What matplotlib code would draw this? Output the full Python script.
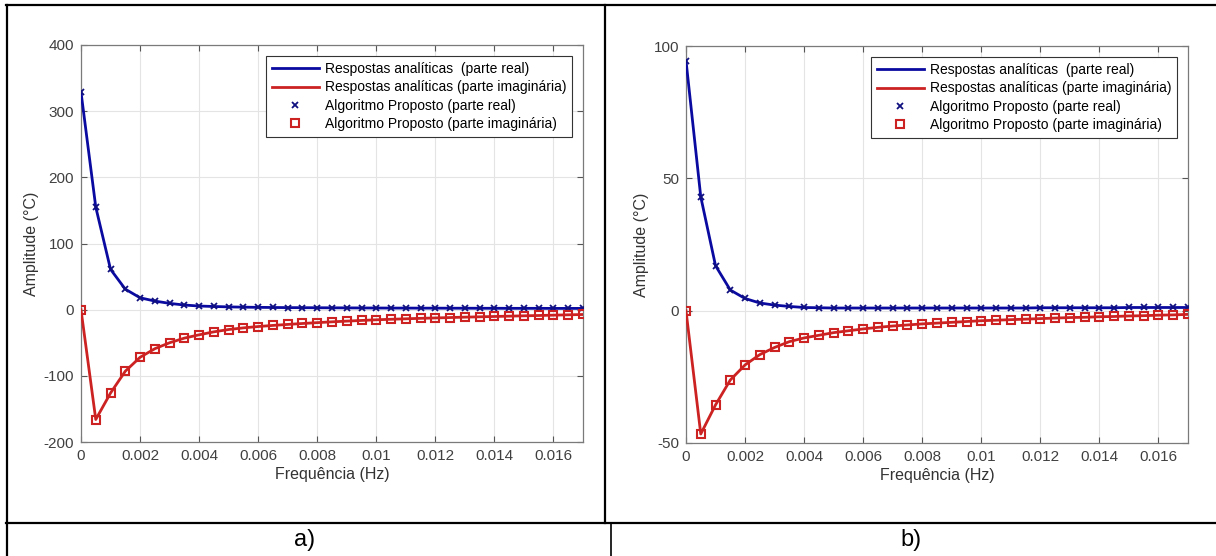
import matplotlib
matplotlib.use("Agg")
import matplotlib.pyplot as plt
from matplotlib.lines import Line2D
from matplotlib.ticker import FuncFormatter

plt.rcParams['font.family'] = ['Liberation Sans', 'DejaVu Sans']

freq_hz = [0.0, 0.0005, 0.001, 0.0015, 0.002, 0.0025, 0.003, 0.0035, 0.004, 0.0045,
           0.005, 0.0055, 0.006, 0.0065, 0.007, 0.0075, 0.008, 0.0085, 0.009, 0.0095,
           0.01, 0.0105, 0.011, 0.0115, 0.012, 0.0125, 0.013, 0.0135, 0.014, 0.0145,
           0.015, 0.0155, 0.016, 0.0165, 0.017]

a_real = [329, 155, 61, 31, 18, 13, 9.5, 7, 5.5, 4.8,
          4.2, 3.8, 3.5, 3.3, 3.1, 3.0, 2.9, 2.8, 2.7, 2.6,
          2.5, 2.4, 2.4, 2.3, 2.3, 2.2, 2.2, 2.1, 2.1, 2.0,
          2.0, 2.0, 1.9, 1.9, 1.9]
a_imag = [0, -166, -126, -93, -72, -59, -50, -43, -38, -33.5,
          -30, -27.5, -25.5, -23.8, -22.3, -20.9, -19.6, -18.4, -17.3, -16.3,
          -15.3, -14.5, -13.8, -13.1, -12.5, -11.9, -11.3, -10.8, -10.3, -9.8,
          -9.3, -8.8, -8.3, -7.8, -7.3]

b_real = [94.5, 43, 17, 7.8, 4.6, 2.9, 2.1, 1.6, 1.2, 1.1,
          1.0, 1.0, 1.0, 1.0, 1.0, 1.0, 1.0, 1.0, 1.0, 1.0,
          1.0, 1.0, 1.0, 1.0, 1.1, 1.1, 1.1, 1.1, 1.1, 1.1,
          1.2, 1.2, 1.2, 1.2, 1.2]
b_imag = [0, -46.6, -35.6, -26.2, -20.5, -16.6, -13.9, -11.7, -10.3, -9.3,
          -8.3, -7.6, -6.9, -6.3, -5.8, -5.4, -5.0, -4.7, -4.4, -4.1,
          -3.8, -3.6, -3.4, -3.2, -3.0, -2.8, -2.6, -2.5, -2.3, -2.2,
          -2.0, -1.9, -1.7, -1.6, -1.4]

x_ticks = [0, 0.002, 0.004, 0.006, 0.008, 0.01, 0.012, 0.014, 0.016]
a_yticks = [-200, -100, 0, 100, 200, 300, 400]
b_yticks = [-50, 0, 50, 100]

labels = ['Respostas analíticas  (parte real)',
          'Respostas analíticas (parte imaginária)',
          'Algoritmo Proposto (parte real)',
          'Algoritmo Proposto (parte imaginária)']

W, H = 1216, 556
fig = plt.figure(figsize=(W / 100, H / 100), dpi=100)

BLUE = '#0a0aa0'
RED = '#cc2222'
MBLUE = '#101080'


def px(x0, y0, x1, y1):
    return [x0 / W, 1 - y1 / H, (x1 - x0) / W, (y1 - y0) / H]


def panel(rect, real, imag, yticks):
    ax = fig.add_axes(rect)
    ax.plot(freq_hz, real, color=BLUE, lw=2.0, label=labels[0], zorder=3)
    ax.plot(freq_hz, imag, color=RED, lw=2.0, label=labels[1], zorder=3)
    ax.plot(freq_hz, real, ls='none', marker='x', ms=5, mew=1.3, color=MBLUE,
            label=labels[2], zorder=4)
    ax.plot(freq_hz, imag, ls='none', marker='s', ms=5.8, mew=1.5, mfc='none',
            mec=RED, label=labels[3], zorder=4)
    ax.set_xlim(0, 0.017)
    ax.set_ylim(yticks[0], yticks[-1])
    ax.set_xticks(x_ticks)
    ax.set_yticks(yticks)
    ax.xaxis.set_major_formatter(FuncFormatter(lambda v, p: '%g' % round(v, 4)))
    ax.yaxis.set_major_formatter(FuncFormatter(lambda v, p: '%g' % v))
    ax.grid(True, color='#e4e4e4', lw=0.8)
    ax.set_axisbelow(True)
    for s in ax.spines.values():
        s.set_color('#7a7a7a')
        s.set_linewidth(0.9)
    ax.tick_params(direction='in', length=4, width=0.8, color='#555555',
                   top=True, right=True, labelsize=11, labelcolor='#404040', pad=5)
    ax.set_xlabel('Frequência (Hz)', fontsize=11.5, color='#333333', labelpad=3)
    ax.set_ylabel('Amplitude (°C)', fontsize=11.5, color='#333333', labelpad=3)
    leg = ax.legend(loc='upper right', fontsize=10, frameon=True, fancybox=False,
                    edgecolor='#333333', framealpha=1, borderaxespad=0.8,
                    handlelength=3.4, handletextpad=0.4, labelspacing=0.32,
                    borderpad=0.42)
    leg.get_frame().set_linewidth(0.8)
    return ax


panel(px(81, 45, 583, 442), a_real, a_imag, a_yticks)
panel(px(686, 46, 1188, 443), b_real, b_imag, b_yticks)


def hline(y, x0, x1, lw=1.6):
    fig.add_artist(Line2D([x0 / W, x1 / W], [1 - y / H, 1 - y / H], color='black', lw=lw))


def vline(x, y0, y1, lw=1.6):
    fig.add_artist(Line2D([x / W, x / W], [1 - y0 / H, 1 - y1 / H], color='black', lw=lw))


hline(5, 6, W)
hline(523, 6, W)
vline(7, 5, H)
vline(605, 5, 523)
vline(611, 523, H, lw=1.2)

fig.text(305 / W, 1 - 540 / H, 'a)', fontsize=17, ha='center', va='center')
fig.text(911 / W, 1 - 540 / H, 'b)', fontsize=17, ha='center', va='center')

fig.savefig('out.png', dpi=100)
